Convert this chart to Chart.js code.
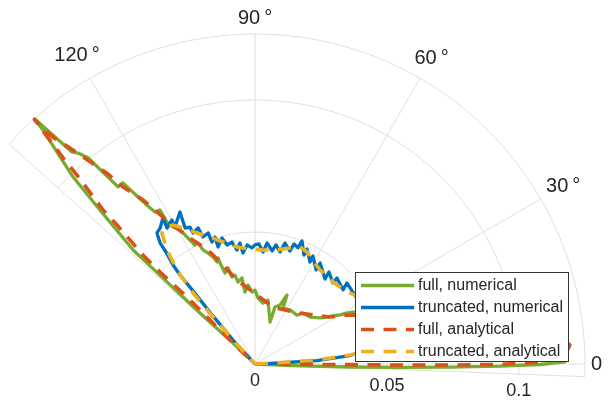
<!DOCTYPE html>
<html>
<head>
<meta charset="utf-8">
<script src="https://cdn.jsdelivr.net/npm/chart.js@4.4.0/dist/chart.umd.min.js"></script>
<style>
  html, body { margin: 0; padding: 0; background: #fff; }
  canvas { display: block; }
</style>
</head>
<body>
<canvas id="polarPlot" width="610" height="400"></canvas>
<script>
// series
const seriesNames = ['full, numerical', 'truncated, numerical', 'full, analytical', 'truncated, analytical'];
const seriesColors = ['#77AC30', '#0072BD', '#D95319', '#EDB120'];

// full, numerical (angle in degrees, radius)
const fullNumTheta = [0, -2.5, -1.8, -1.3, -0.9, -0.5, -0.1, 0.4, 2.6, 5.8, 10.6, 16.2, 23.9,
  27.9, 29.0, 30.0, 31.6, 33.1, 35.3, 40.5, 46.7, 49.4, 57.1, 63.4, 65.1, 67.0, 70.7, 70.3, 78.5,
  82.5, 87.4, 90.0, 92.4, 95.1, 97.9, 98.6, 101.7, 102.7, 104.8, 105.7, 108.2, 108.8, 109.2, 110.4,
  111.4, 113.0, 114.5, 115.2, 116.8, 117.3, 118.2, 119.2, 120.9, 121.8, 121.7, 123.3, 123.9,
  125.1, 126.1, 127.7, 129.0, 130.0, 130.8, 131.95, 132.2, 134.2, 135.2, 136.9, 137.0, 137.2, 136.3, 0];
const fullNumR = [0, 0.0171, 0.0360, 0.0549, 0.0739, 0.0928, 0.1080, 0.1174, 0.1179, 0.1085, 0.0867, 0.0651, 0.0476,
  0.0420, 0.0398, 0.0372, 0.0347, 0.0326, 0.0302, 0.0274, 0.0265, 0.0244, 0.0244, 0.0237, 0.0288, 0.0243, 0.0229, 0.0169, 0.0247,
  0.0233, 0.0250, 0.0280, 0.0273, 0.0300, 0.0275, 0.0330, 0.0317, 0.0345, 0.0341, 0.0378, 0.0363, 0.0388, 0.0425, 0.0412,
  0.0435, 0.0457, 0.0475, 0.0507, 0.0505, 0.0520, 0.0546, 0.0582, 0.0605, 0.0633, 0.0686, 0.0689, 0.0712,
  0.0778, 0.0849, 0.0848, 0.1005, 0.1043, 0.1061, 0.1248, 0.1196, 0.0989, 0.0828, 0.0632, 0.0456, 0.0284, 0.0115, 0];

// truncated, numerical
const truncNumTheta = [0, 1.9, 3.2, 5.1, 6.3, 8.3, 11.7, 15.8, 22.2, 29.1,
  33.6, 37.0, 41.4, 40.1, 46.4, 46.1, 51.2, 50.5, 57.2, 57.0, 61.8, 61.7, 65.7, 65.8, 69.1, 69.7,
  72.0, 72.8, 76.1, 77.4, 80.0, 81.4, 84.3, 85.9, 88.1, 90.0, 91.5, 93.8, 96.2, 97.1, 99.0, 100.7,
  103.2, 104.7, 107.5, 107.5, 109.4, 109.7, 112.3, 112.7, 115.3, 115.4, 117.2, 116.3, 120.3, 120.0,
  122.9, 122.2, 124.9, 126.8,
  128.1, 128.5, 129.6, 130.1, 130.3, 131.2, 132.5, 132.0, 0];
const truncNumR = [0, 0.0057, 0.0235, 0.0361, 0.0400, 0.0498, 0.0580, 0.0610, 0.0574, 0.0507,
  0.0459, 0.0460, 0.0464, 0.0436, 0.0450, 0.0426, 0.0447, 0.0417, 0.0455, 0.0425, 0.0464, 0.0439, 0.0478, 0.0453, 0.0499, 0.0469,
  0.0478, 0.0448, 0.0472, 0.0435, 0.0458, 0.0433, 0.0461, 0.0425, 0.0455, 0.0451, 0.0440, 0.0452, 0.0423, 0.0462, 0.0437, 0.0470,
  0.0463, 0.0493, 0.0465, 0.0504, 0.0490, 0.0527, 0.0520, 0.0559, 0.0549, 0.0574, 0.0579, 0.0642, 0.0601, 0.0630,
  0.0613, 0.0654, 0.0628, 0.0620,
  0.0583, 0.0542, 0.0487, 0.0441, 0.0363, 0.0242, 0.0123, 0.0020, 0];

// full, analytical
const fullAnaTheta = [0, -0.4, -0.4, -0.4, -0.3, -0.1, 0.4, 1.7, 3.45, 5.2, 8.4, 12.6, 18.3, 27.3,
  32.1, 40.2, 53.8, 72.5, 88.3, 102.1, 107.9, 112.4, 116.6, 121.1, 122.7, 124.3, 126.7, 127.8,
  129.2, 130.4, 131.7, 132.0, 132.05, 132.5, 133.0, 133.3, 134.6, 134.8, 135.8, 135.9, 135.4,
  135.6, 136.6, 0];
const fullAnaR = [0, 0.0170, 0.0360, 0.0549, 0.0739, 0.0928, 0.1080, 0.1175, 0.1195, 0.1160, 0.1015, 0.0796, 0.0579, 0.0405,
  0.0335, 0.0288, 0.0244, 0.0226, 0.0261, 0.0325, 0.0394, 0.0467, 0.0525, 0.0624, 0.0680, 0.0752, 0.0836, 0.0915,
  0.0988, 0.1064, 0.1151, 0.1218, 0.1248, 0.1150, 0.1056, 0.0983, 0.0820, 0.0742, 0.0592, 0.0501, 0.0362,
  0.0254, 0.0094, 0];

// truncated, analytical
const truncAnaTheta = [0, 2.7, 3.3, 3.7, 5.4, 6.1, 8.3, 10.9, 15.8, 21.8, 29.9, 34.6, 37.7, 42.2,
  46.4, 50.7, 55.3, 59.9, 65.1, 69.0, 73.2, 79.1, 86.0, 92.5, 98.7, 104.7, 109.5, 113.9, 117.9,
  120.5, 123.3, 125.4, 127.7, 129.7, 131.1, 131.8, 132.5, 132.5, 0];
const truncAnaR = [0, 0.0057, 0.0133, 0.0235, 0.0361, 0.0400, 0.0498, 0.0579, 0.0610, 0.0571, 0.0502, 0.0460, 0.0445, 0.0434,
  0.0429, 0.0431, 0.0433, 0.0446, 0.0468, 0.0475, 0.0459, 0.0440, 0.0433, 0.0436, 0.0448, 0.0478, 0.0510, 0.0543, 0.0583,
  0.0611, 0.0621, 0.0609, 0.0545, 0.0463, 0.0357, 0.0239, 0.0123, 0.0030, 0];

// polar axes
const thetaTicks = [0, 30, 60, 90, 120];
const rTicks = [0, 0.05, 0.1];
const thetaLim = [-2.2, 138.2];
const rMax = 0.125;

const FONT = '"Liberation Sans", Arial, Helvetica, sans-serif';
const TEXT = '#262626';
const GRID = '#dfdfdf';

function toXY(theta, r) {
  return theta.map((t, i) => ({
    x: r[i] * Math.cos(t * Math.PI / 180),
    y: r[i] * Math.sin(t * Math.PI / 180)
  }));
}

// grid, labels and legend drawn on the chart's own x/y scales
const polarAxes = {
  id: 'polarAxes',
  beforeDatasetsDraw(chart) {
    const { ctx, scales: { x, y } } = chart;
    const cx = x.getPixelForValue(0), cy = y.getPixelForValue(0);
    const rad = v => x.getPixelForValue(v) - cx;
    const a0 = -thetaLim[1] * Math.PI / 180, a1 = -thetaLim[0] * Math.PI / 180;
    ctx.save();
    ctx.strokeStyle = GRID;
    ctx.lineWidth = 1;
    rTicks.concat([rMax]).forEach(v => {
      if (v <= 0) return;
      ctx.beginPath();
      ctx.arc(cx, cy, rad(v), a0, a1);
      ctx.stroke();
    });
    thetaTicks.concat(thetaLim).forEach(t => {
      const a = t * Math.PI / 180;
      ctx.beginPath();
      ctx.moveTo(cx, cy);
      ctx.lineTo(cx + rad(rMax) * Math.cos(a), cy - rad(rMax) * Math.sin(a));
      ctx.stroke();
    });
    ctx.restore();
  },
  afterDraw(chart) {
    const { ctx, scales: { x, y } } = chart;
    const cx = x.getPixelForValue(0), cy = y.getPixelForValue(0);
    const rad = v => x.getPixelForValue(v) - cx;
    const R = rad(rMax);
    ctx.save();
    ctx.fillStyle = TEXT;
    ctx.textAlign = 'center';
    ctx.textBaseline = 'middle';

    // angle labels
    ctx.font = '20px ' + FONT;
    thetaTicks.forEach(t => {
      const txt = t === 0 ? '0' : t + '\u2009°';
      const w = ctx.measureText(txt).width, h = 20;
      const a = t * Math.PI / 180;
      const off = 6 + Math.abs(Math.cos(a)) * w / 2 + Math.abs(Math.sin(a)) * h / 2;
      ctx.fillText(txt, cx + (R + off) * Math.cos(a), cy - (R + off) * Math.sin(a));
    });

    // radius labels along the lower edge
    ctx.font = '18px ' + FONT;
    const am = thetaLim[0] * Math.PI / 180;
    rTicks.forEach(v => {
      const px = cx + rad(v) * Math.cos(am), py = cy - rad(v) * Math.sin(am);
      ctx.fillText(String(v), px, py + 17);
    });

    // legend
    const lx = 355.5, ly = 272.5, lw = 213, lh = 89;
    ctx.fillStyle = '#fff';
    ctx.fillRect(lx, ly, lw, lh);
    ctx.strokeStyle = '#333';
    ctx.lineWidth = 1;
    ctx.strokeRect(lx, ly, lw, lh);
    ctx.font = '16px ' + FONT;
    ctx.textAlign = 'left';
    chart.data.datasets.forEach((ds, i) => {
      const yy = 285.5 + i * 22;
      ctx.strokeStyle = ds.borderColor;
      ctx.lineWidth = ds.borderWidth;
      ctx.setLineDash(ds.borderDash || []);
      ctx.beginPath();
      ctx.moveTo(361, yy);
      ctx.lineTo(414, yy);
      ctx.stroke();
      ctx.setLineDash([]);
      ctx.fillStyle = TEXT;
      ctx.fillText(ds.label, 418, yy);
    });
    ctx.restore();
  }
};

const datasets = [
  { label: seriesNames[0], data: toXY(fullNumTheta, fullNumR), borderColor: seriesColors[0], borderWidth: 3.3, borderDash: [], order: 4 },
  { label: seriesNames[1], data: toXY(truncNumTheta, truncNumR), borderColor: seriesColors[1], borderWidth: 3.3, borderDash: [], order: 3 },
  { label: seriesNames[2], data: toXY(fullAnaTheta, fullAnaR), borderColor: seriesColors[2], borderWidth: 3.6, borderDash: [13, 9.5], order: 2 },
  { label: seriesNames[3], data: toXY(truncAnaTheta, truncAnaR), borderColor: seriesColors[3], borderWidth: 3.6, borderDash: [13, 9.5], order: 1 }
].map(d => Object.assign(d, { showLine: true, pointRadius: 0, fill: false, tension: 0, borderJoinStyle: 'round' }));

// 330 px of radius = rMax, centre at (255, 364)
const pxPerUnit = 330 / rMax;
new Chart(document.getElementById('polarPlot'), {
  type: 'scatter',
  data: { datasets: datasets },
  options: {
    responsive: false,
    animation: false,
    devicePixelRatio: 1,
    layout: { padding: 0 },
    scales: {
      x: { type: 'linear', display: false, min: -255 / pxPerUnit, max: 355 / pxPerUnit },
      y: { type: 'linear', display: false, min: -36 / pxPerUnit, max: 364 / pxPerUnit }
    },
    plugins: { legend: { display: false }, tooltip: { enabled: false } }
  },
  plugins: [polarAxes]
});
</script>
</body>
</html>
